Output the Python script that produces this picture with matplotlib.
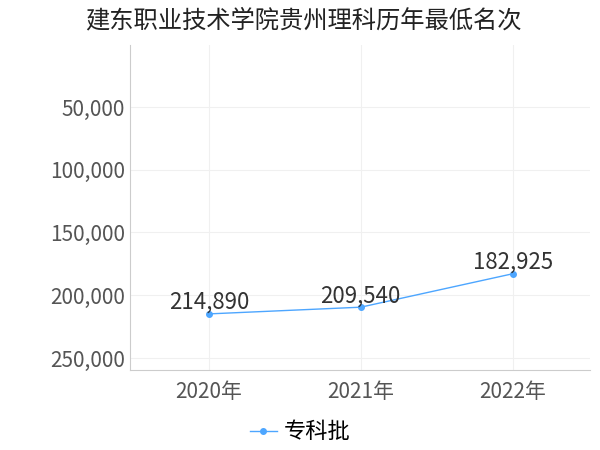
import matplotlib
matplotlib.use("Agg")
import matplotlib.pyplot as plt

plt.rcParams['font.family'] = ['Noto Sans CJK SC', 'DejaVu Sans']

years = ["2020年", "2021年", "2022年"]
values = [214890, 209540, 182925]
series_name = "专科批"
yticks = [50000, 100000, 150000, 200000, 250000]

fig = plt.figure(figsize=(6, 4.5), dpi=100)
ax = fig.add_axes([130/600, 1-370/450, 460/600, 325/450])
x = list(range(len(years)))
ax.plot(x, values, color="#4da6ff", lw=1, marker="o", ms=4, label=series_name)
for xi, v in zip(x, values):
    ax.annotate(f"{v:,}", (xi, v), xytext=(0, 0), textcoords="offset points",
                ha="center", va="bottom", fontsize=16, color="#333333")
ax.set_ylim(259600, 600)
ax.set_xlim(-0.52, 2.51)
ax.set_yticks(yticks)
ax.set_yticklabels([f"{t:,}" for t in yticks])
ax.set_xticks(x)
ax.set_xticklabels(years)
ax.tick_params(labelsize=15, colors="#555555", length=0)
ax.tick_params(axis='x', pad=8)
ax.grid(True, color="#f0f0f0", lw=0.8)
for s in ["top", "right"]:
    ax.spines[s].set_visible(False)
for s in ["left", "bottom"]:
    ax.spines[s].set_color("#cccccc")
fig.text(85/600, 1-20/450, "建东职业技术学院贵州理科历年最低名次", fontsize=17.5, va="center", color="#222222")
fig.legend(loc="center", bbox_to_anchor=(0.5, 1-432/450), frameon=False, fontsize=16,
           handlelength=1.2, handletextpad=0.3)
fig.savefig("out.png")
